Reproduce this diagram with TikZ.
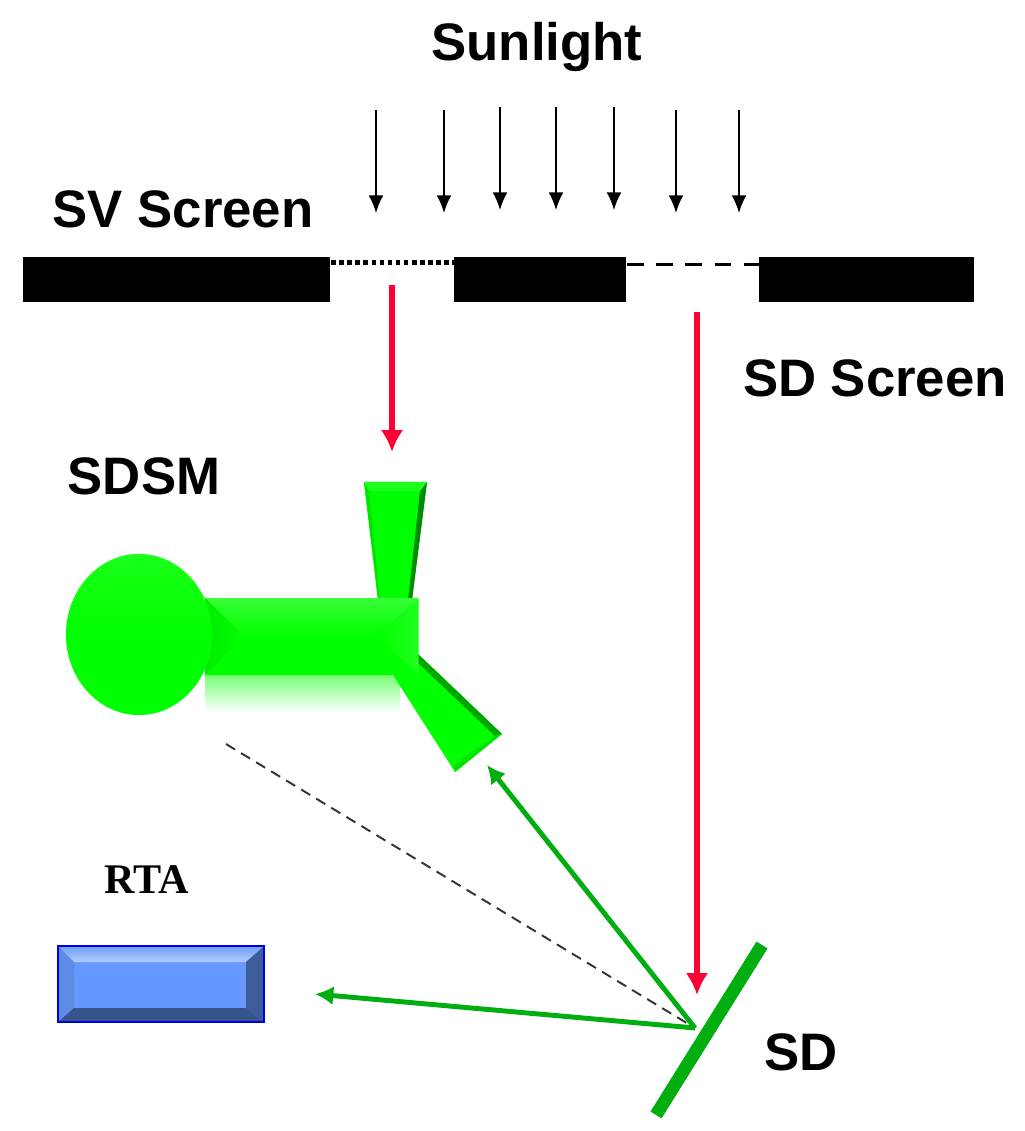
\documentclass[tikz,border=0pt]{standalone}
\usepackage{fontspec}
\setmainfont{Liberation Sans}
\newfontfamily\rtafont{Liberation Serif}
\usepackage{xcolor}
\usetikzlibrary{positioning}
\usetikzlibrary{arrows.meta}
\usetikzlibrary{shapes.geometric}
\definecolor{sdsmgreen}{HTML}{00FF00}
\definecolor{sdgreen}{HTML}{00AE10}
\definecolor{lightred}{HTML}{FF0033}
\definecolor{rtablue}{HTML}{6699FF}

\begin{document}
\begin{tikzpicture}[x=0.01cm, y=-0.01cm, node distance = 1.03cm,
	bar/.style={rectangle, fill=black, inner sep=0pt, anchor=north west, minimum height=0.45cm},
	lab/.style={font=\fontsize{15}{18}\selectfont\bfseries, text=black, inner sep=0pt},
	ray/.style={-{Latex[length=5pt,width=4.2pt]}, line width=0.5pt, black},
	redray/.style={-{Latex[length=6.2pt,width=6.4pt]}, line width=1.9pt, lightred},
	greenray/.style={-{Latex[length=5.2pt,width=5.4pt]}, line width=1.4pt, sdgreen}]
	\useasboundingbox (0,0) rectangle (1024,1131);
	% screens
	\node[bar, minimum width=3.07cm] (svleft) at (22.5,256.5) {};
	\node[bar, minimum width=1.72cm] (svmid) at (453.5,256.5) {};
	\node[bar, minimum width=2.15cm] (sdright) at (758.5,256.5) {};
	\draw[line width=1.3pt, dash pattern=on 1.3pt off 1pt] ([yshift=-0.06cm]svleft.north east) -- ([yshift=-0.06cm]svmid.north west);
	\draw[line width=1.1pt, dash pattern=on 4.7pt off 3.6pt] ([yshift=-0.08cm]svmid.north east) -- ([yshift=-0.08cm]sdright.north west);
	\node[lab] (sun) at (537,47) {Sunlight};
	\node[lab] (svlab) at (183,209) {SV Screen};
	\node[lab] (sdscr) at (875,378) {SD Screen};
	\node[lab] (sdsmlab) at (144,476) {SDSM};
	\node[font=\rtafont\fontsize{12}{14}\selectfont\bfseries, inner sep=0pt] (rtalab) at (147,880) {RTA};
	\node[lab] (sdlab) at (801,1052) {SD};
	% sunlight
	\coordinate (a1) at (376,110);
	\coordinate (a2) at (444,110);
	\coordinate (a3) at (500,107);
	\coordinate (a4) at (556,107);
	\coordinate (a5) at (614,107);
	\coordinate (a6) at (676,110);
	\coordinate (a7) at (739,110);
	\coordinate [below = of a1] (b1);
	\coordinate [below = of a2] (b2);
	\coordinate [below = of a3] (b3);
	\coordinate [below = of a4] (b4);
	\coordinate [below = of a5] (b5);
	\coordinate [below = of a6] (b6);
	\coordinate [below = of a7] (b7);
	\path[ray] (a1) edge (b1)
	(a2) edge (b2)
	(a3) edge (b3)
	(a4) edge (b4)
	(a5) edge (b5)
	(a6) edge (b6)
	(a7) edge (b7);
	% SDSM
	\shade[top color=sdsmgreen!55, bottom color=white] (205,674) rectangle (400,712);
	\fill[sdsmgreen] (364,482) -- (427,482) -- (412,600) -- (378,600) -- cycle;
	\fill[sdsmgreen!90!black] (369,490) -- (364,482) -- (378,600) -- (380,600) -- cycle;
	\fill[green!55!black] (427,482) -- (420,491) -- (408,600) -- (412,600) -- cycle;
	\fill[sdsmgreen!88!white] (364,482) -- (427,482) -- (420,491) -- (369,491) -- cycle;
	\fill[sdsmgreen] (417,653) -- (502,734) -- (455,772) -- (393,675) -- cycle;
	\fill[green!65!black] (417,653) -- (502,734) -- (495,736) -- (414,659) -- cycle;
	\fill[sdsmgreen!90!black] (502,734) -- (455,772) -- (453,765) -- (495,736) -- cycle;
	\node[rectangle, fill=sdsmgreen, inner sep=0pt, anchor=north west, minimum width=2.12cm, minimum height=0.76cm] (body) at (205,598) {};
	\shade[top color=sdsmgreen!78!white, bottom color=sdsmgreen] (body.north west) -- (body.north east) -- (378,636) -- (244,636) -- cycle;
	\shade[left color=sdsmgreen!93!black, right color=sdsmgreen] (body.north west) -- (244,636) -- (body.south west) -- cycle;
	\shade[right color=sdsmgreen!88!white, left color=sdsmgreen] (body.north east) -- (378,636) -- (body.south east) -- cycle;
	\node[ellipse, top color=sdsmgreen!90!white, bottom color=sdsmgreen, middle color=sdsmgreen, inner sep=0pt, minimum width=1.46cm, minimum height=1.61cm] (sdsm) at (139,634.5) {};
	% RTA
	\node[rectangle, draw=blue!90!black, line width=0.6pt, fill=rtablue, inner sep=0pt, anchor=north west, minimum width=2.04cm, minimum height=0.74cm] (rta) at (58,946) {};
	\shade[top color=rtablue!95!white, bottom color=rtablue!50!white] (rta.north west) -- (rta.north east) -- (246,962) -- (74,962) -- cycle;
	\fill[rtablue!90!black] (rta.north west) -- (74,962) -- (74,1008) -- (rta.south west) -- cycle;
	\fill[rtablue!60!black] (rta.north east) -- (246,962) -- (246,1008) -- (rta.south east) -- cycle;
	\fill[rtablue!55!black] (rta.south west) -- (74,1008) -- (246,1008) -- (rta.south east) -- cycle;
	\draw[blue!90!black, line width=0.6pt] (rta.north west) rectangle (rta.south east);
	% SD and beams
	\coordinate (sdtop) at (762,945);
	\coordinate (sdbot) at (656,1115);
	\coordinate (hit) at (695,1028);
	\coordinate (dashend) at (226,744);
	\coordinate (sdsmin) at (487,765);
	\coordinate (rtain) at (315,994);
	\draw[line width=0.55pt, dash pattern=on 3pt off 2pt, black!80] (dashend) -- (hit);
	\draw[line width=3.7pt, sdgreen] (sdtop) -- (sdbot);
	\path[greenray] (hit) edge (sdsmin)
	(hit) edge (rtain);
	\coordinate (r1) at (392,285);
	\coordinate (r1e) at (392,452);
	\coordinate (r2) at (697,312);
	\coordinate (r2e) at (697,995);
	\path[redray] (r1) edge (r1e)
	(r2) edge (r2e);
\end{tikzpicture}
\end{document}
